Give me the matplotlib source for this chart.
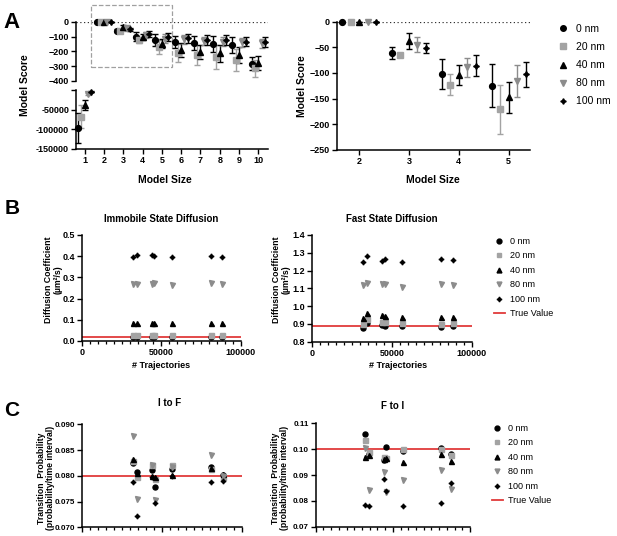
import matplotlib
matplotlib.use('Agg')
import matplotlib.pyplot as plt
from matplotlib.lines import Line2D
from matplotlib.patches import Rectangle
from matplotlib.ticker import MultipleLocator

plt.rcParams['font.family'] = ['Liberation Sans', 'DejaVu Sans']
plt.rcParams['font.size'] = 6.5

# ---- data: panel A (model score vs model size) ----
sizes = [1, 2, 3, 4, 5, 6, 7, 8, 9, 10]
score_0 = [-97000, 0, -61, -102, -125, -137, -146, -150, -157, -283]
err_0 = [38000, 0, 11, 30, 42, 43, 47, 52, 56, 45]
score_20 = [-68000, 0, -65, -123, -171, -209, -225, -236, -258, -315]
err_20 = [29000, 0, 3, 21, 48, 60, 70, 80, 75, 60]
score_40 = [-38000, 0, -38, -104, -148, -191, -202, -213, -225, -281]
err_40 = [12000, 0, 15, 19, 31, 45, 48, 58, 55, 48]
score_80 = [-10000, 0, -45, -89, -116, -120, -130, -135, -140, -146]
err_80 = [3000, 0, 15, 19, 31, 28, 30, 30, 30, 30]
score_100 = [-4000, 0, -52, -86, -103, -112, -123, -123, -135, -139]
err_100 = [1500, 0, 10, 20, 24, 30, 33, 33, 30, 35]

# ---- data: panels B and C (vs number of trajectories) ----
trajectories = [32000, 34500, 44000, 45500, 56500, 81000, 88000]

immobile_0 = [0.020, 0.020, 0.020, 0.020, 0.020, 0.020, 0.020]
immobile_20 = [0.030, 0.030, 0.030, 0.030, 0.030, 0.030, 0.030]
immobile_40 = [0.083, 0.083, 0.083, 0.083, 0.083, 0.083, 0.083]
immobile_80 = [0.268, 0.270, 0.270, 0.272, 0.265, 0.272, 0.268]
immobile_100 = [0.398, 0.405, 0.405, 0.400, 0.398, 0.400, 0.398]
immobile_true = 0.02

fast_0 = [0.879, 0.903, 0.892, 0.890, 0.888, 0.885, 0.890]
fast_20 = [0.900, 0.926, 0.910, 0.910, 0.905, 0.900, 0.905]
fast_40 = [0.935, 0.960, 0.950, 0.945, 0.940, 0.940, 0.940]
fast_80 = [1.119, 1.132, 1.122, 1.124, 1.110, 1.124, 1.119]
fast_100 = [1.247, 1.282, 1.254, 1.263, 1.248, 1.263, 1.262]
fast_true = 0.89

itof_0 = [0.0825, 0.0808, 0.0812, 0.0779, 0.0813, 0.0817, 0.0802]
itof_20 = [0.0828, 0.0798, 0.0821, 0.0793, 0.0821, 0.0813, 0.0797]
itof_40 = [0.0833, 0.0805, 0.0800, 0.0797, 0.0801, 0.0816, 0.0804]
itof_80 = [0.0878, 0.0755, 0.0820, 0.0753, 0.0818, 0.0841, 0.0800]
itof_100 = [0.0788, 0.0722, 0.0798, 0.0748, 0.0800, 0.0787, 0.0790]
itof_true = 0.080

ftoi_0 = [0.1059, 0.0980, 0.0958, 0.1010, 0.0994, 0.1005, 0.0983]
ftoi_20 = [0.1035, 0.0990, 0.0971, 0.0965, 0.1000, 0.1002, 0.0978]
ftoi_40 = [0.0971, 0.0978, 0.0962, 0.0965, 0.0949, 0.0980, 0.0954]
ftoi_80 = [0.1005, 0.0842, 0.0910, 0.0835, 0.0881, 0.0919, 0.0845]
ftoi_100 = [0.0784, 0.0782, 0.0885, 0.0840, 0.0782, 0.0793, 0.0868]
ftoi_true = 0.100

labels = ['0 nm', '20 nm', '40 nm', '80 nm', '100 nm']
markers = ['o', 's', '^', 'v', (4, 1, 0)]
colors = ['black', '#a3a3a3', 'black', '#8c8c8c', 'black']
offsets = [-0.34, -0.17, 0.0, 0.17, 0.34]
red = '#e03a3a'

W, H = 617, 536
fig = plt.figure(figsize=(W / 100, H / 100), dpi=100)


def px_axes(left, top, right, bottom):
    return fig.add_axes([left / W, 1 - bottom / H, (right - left) / W, (bottom - top) / H])


def style(ax, fs=6.5):
    for s in ['top', 'right']:
        ax.spines[s].set_visible(False)
    for s in ['left', 'bottom']:
        ax.spines[s].set_linewidth(1.1)
    ax.tick_params(width=1.0, length=3.5, labelsize=fs, pad=1.5)
    for t in ax.get_xticklabels() + ax.get_yticklabels():
        t.set_fontweight('bold')


def ftext(x, y, s, **kw):
    fig.text(x / W, 1 - y / H, s, ha='center', va='center', **kw)


def legend_at(ax, x, y, fs, spacing, true_line=False):
    handles = [Line2D([], [], ls='none', marker=m, color=c, ms=4 if fs > 6.5 else 3.5)
               for m, c in zip(markers, colors)]
    names = list(labels)
    if true_line:
        handles.append(Line2D([], [], color=red, lw=1.3))
        names.append('True Value')
    ax.legend(handles, names, loc='upper left', bbox_to_anchor=(x / W, 1 - y / H),
              bbox_transform=fig.transFigure, frameon=False, fontsize=fs,
              borderpad=0, borderaxespad=0, handlelength=1.2, handletextpad=0.6,
              labelspacing=spacing)


score_sets = [(score_0, err_0), (score_20, err_20), (score_40, err_40),
              (score_80, err_80), (score_100, err_100)]


def draw_scores(ax, idx):
    for (sc, er), m, c, off in zip(score_sets, markers, colors, offsets):
        xs = [sizes[i] + off for i in idx]
        ys = [sc[i] for i in idx]
        es = [er[i] for i in idx]
        ax.errorbar(xs, ys, yerr=es, marker=m, ls='none', color=c, ecolor=c, ms=4.2,
                    capsize=2.2, elinewidth=1.0, capthick=1.0, clip_on=False, zorder=3)


# ---- Panel A left: broken axis ----
axA_top = px_axes(76, 21.7, 268, 81)
axA_bot = px_axes(76, 90, 268, 149)

draw_scores(axA_top, range(1, 10))
axA_top.axhline(0, color='#333333', ls=(0, (1, 2)), lw=0.9, zorder=1)
axA_top.set_xlim(0.55, 10.5)
axA_top.set_ylim(-400, 0)
axA_top.set_yticks([0, -100, -200, -300, -400])
axA_top.spines['bottom'].set_visible(False)
axA_top.set_xticks([])
style(axA_top)
axA_top.add_patch(Rectangle((1.31, -307), 4.21, 422, fill=False, ls='--',
                            ec='#a0a0a0', lw=0.9, clip_on=False))

draw_scores(axA_bot, [0])
axA_bot.set_xlim(0.55, 10.5)
axA_bot.set_ylim(-150000, 0)
axA_bot.set_yticks([-150000, -100000, -50000, 0])
axA_bot.set_yticklabels(['-150000', '-100000', '-50000', ''])
axA_bot.set_xticks(sizes)
style(axA_bot)

ftext(25, 85, 'Model Score', rotation=90, fontsize=7.5, fontweight='bold')
ftext(165, 180, 'Model Size', fontsize=7.5, fontweight='bold')
ftext(11, 22, 'A', fontsize=16, fontweight='bold')

# ---- Panel A right: zoom of sizes 2-5 ----
axA_r = px_axes(336.7, 21.7, 530, 149.7)
draw_scores(axA_r, range(1, 5))
axA_r.axhline(0, color='#333333', ls=(0, (1, 2)), lw=0.9, zorder=1)
axA_r.set_xlim(1.55, 5.43)
axA_r.set_ylim(-250, 0)
axA_r.set_xticks([2, 3, 4, 5])
axA_r.set_yticks([0, -50, -100, -150, -200, -250])
style(axA_r)
ftext(302, 86, 'Model Score', rotation=90, fontsize=7.5, fontweight='bold')
ftext(433, 180, 'Model Size', fontsize=7.5, fontweight='bold')
legend_at(axA_r, 557, 24, 7.5, 0.78)


def draw_scatter(ax, sets, true_val, fs=6.5):
    ax.axhline(true_val, color=red, lw=1.3, zorder=1)
    for vals, m, c in zip(sets, markers, colors):
        ax.plot(trajectories, vals, ls='none', marker=m, color=c, ms=3.6,
                clip_on=False, zorder=3)
    ax.set_xlim(0, 100000)
    ax.set_xticks([0, 50000, 100000])
    ax.xaxis.set_minor_locator(MultipleLocator(5000))
    style(ax, fs)
    ax.tick_params(axis='x', which='minor', length=2.2, width=0.9)


# ---- Panel B ----
axB_l = px_axes(82, 235, 240.7, 341)
draw_scatter(axB_l, [immobile_0, immobile_20, immobile_40, immobile_80, immobile_100], immobile_true)
axB_l.set_ylim(0, 0.5)
axB_l.set_yticks([0.0, 0.1, 0.2, 0.3, 0.4, 0.5])
axB_l.set_yticklabels(['0.0', '0.1', '0.2', '0.3', '0.4', '0.5'], fontweight='bold')
ftext(161, 219, 'Immobile State Diffusion', fontsize=7, fontweight='bold')
ftext(53, 280, 'Diffusion Coefficient\n(µm²/s)', rotation=90, fontsize=6.3,
      fontweight='bold', linespacing=1.05)
ftext(161, 366, '# Trajectories', fontsize=6.5, fontweight='bold')
ftext(12, 209, 'B', fontsize=15, fontweight='bold')

axB_r = px_axes(312.3, 235, 471.7, 341.7)
draw_scatter(axB_r, [fast_0, fast_20, fast_40, fast_80, fast_100], fast_true)
axB_r.set_ylim(0.8, 1.4)
axB_r.set_yticks([0.8, 0.9, 1.0, 1.1, 1.2, 1.3, 1.4])
axB_r.set_yticklabels(['0.8', '0.9', '1.0', '1.1', '1.2', '1.3', '1.4'], fontweight='bold')
ftext(392, 219, 'Fast State Diffusion', fontsize=7, fontweight='bold')
ftext(281, 280, 'Diffusion Coefficient\n(µm²/s)', rotation=90, fontsize=6.3,
      fontweight='bold', linespacing=1.05)
ftext(398, 366, '# Trajectories', fontsize=6.5, fontweight='bold')
legend_at(axB_r, 494, 237, 6.5, 0.6, true_line=True)

# ---- Panel C (x tick labels fall below the picture edge) ----
axC_l = px_axes(82, 424.3, 241.7, 527.3)
draw_scatter(axC_l, [itof_0, itof_20, itof_40, itof_80, itof_100], itof_true, fs=5.8)
axC_l.set_ylim(0.070, 0.090)
axC_l.set_yticks([0.070, 0.075, 0.080, 0.085, 0.090])
axC_l.set_yticklabels(['0.070', '0.075', '0.080', '0.085', '0.090'], fontweight='bold')
axC_l.tick_params(axis='x', labelbottom=False)
ftext(170, 403, 'I to F', fontsize=7, fontweight='bold')
ftext(46, 478, 'Transition  Probability\n(probability/time interval)', rotation=90,
      fontsize=6.2, fontweight='bold', linespacing=1.1)
ftext(12, 410, 'C', fontsize=15, fontweight='bold')

axC_r = px_axes(315.7, 423.3, 470, 526.7)
draw_scatter(axC_r, [ftoi_0, ftoi_20, ftoi_40, ftoi_80, ftoi_100], ftoi_true, fs=5.8)
axC_r.set_ylim(0.07, 0.11)
axC_r.set_yticks([0.07, 0.08, 0.09, 0.10, 0.11])
axC_r.set_yticklabels(['0.07', '0.08', '0.09', '0.10', '0.11'], fontweight='bold')
axC_r.tick_params(axis='x', labelbottom=False)
ftext(393, 406, 'F to I', fontsize=7, fontweight='bold')
ftext(280, 478, 'Transition  Probability\n(probability/time interval)', rotation=90,
      fontsize=6.2, fontweight='bold', linespacing=1.1)
legend_at(axC_r, 492, 424, 6.5, 0.6, true_line=True)

fig.savefig('out.png', dpi=100)
